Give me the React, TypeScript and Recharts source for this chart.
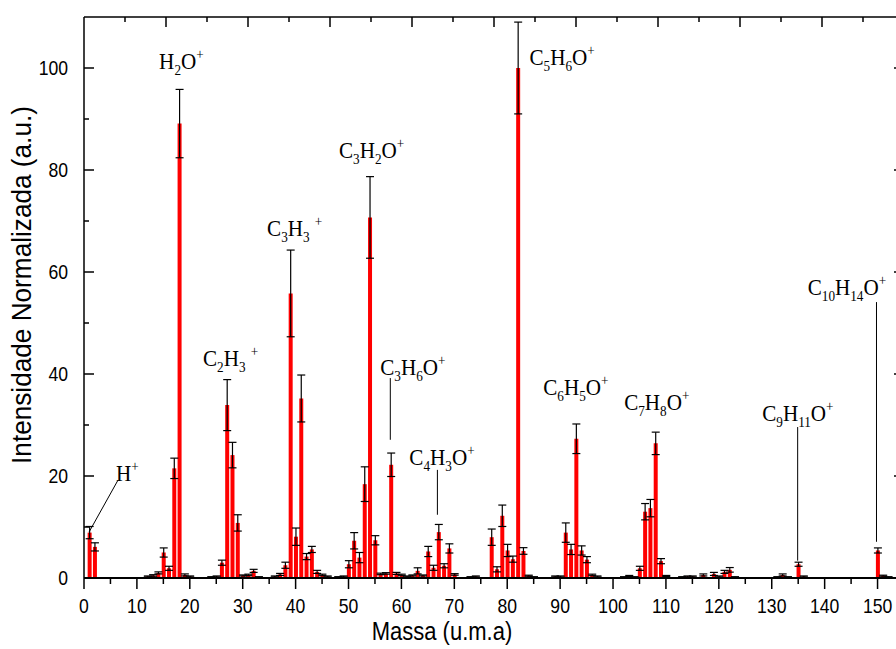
import React from "react";
import {
    ComposedChart,
    Bar,
    ErrorBar,
    XAxis,
    YAxis,
    ReferenceDot,
    ReferenceLine,
} from "recharts";

// mass (u.m.a), normalized intensity and error
const masses = [
    1, 2, 12, 13, 14, 15, 16, 17, 18, 19, 20, 24, 25, 26, 27, 28, 29, 30, 31, 32, 33,
    36, 37, 38, 39, 40, 41, 42, 43, 44, 45, 46, 48, 49, 50, 51, 52, 53, 54, 55, 56, 57,
    58, 59, 60, 61, 62, 63, 64, 65, 66, 67, 68, 69, 70, 73, 74, 77, 78, 79, 80, 81, 82,
    83, 84, 85, 89, 90, 91, 92, 93, 94, 95, 96, 97, 102, 103, 104, 105, 106, 107, 108,
    109, 110, 113, 114, 115, 117, 119, 120, 121, 122, 123, 131, 132, 133, 135, 136,
    150, 151, 152,
];
const intensity = [
    8.9, 6.1, 0.3, 0.5, 1.0, 5.0, 1.9, 21.5, 89.1, 0.6, 0.3, 0.2, 0.3, 3.0, 33.9, 24.1, 10.8, 0.5, 0.6, 1.4, 0.2,
    0.3, 0.7, 2.5, 55.8, 8.1, 35.2, 4.2, 5.6, 1.2, 0.6, 0.3, 0.2, 0.3, 2.7, 7.3, 4.0, 18.4, 70.7, 7.4, 0.8, 0.9,
    22.2, 0.9, 0.6, 0.3, 0.5, 1.4, 0.5, 5.2, 2.0, 9.0, 2.4, 5.8, 0.7, 0.2, 0.3, 8.0, 1.7, 12.2, 5.4, 3.7, 100,
    5.3, 0.45, 0.2, 0.3, 0.3, 8.9, 5.6, 27.3, 5.4, 3.6, 0.6, 0.3, 0.2, 0.4, 0.2, 1.9, 13.0, 13.7, 26.4,
    3.3, 0.4, 0.2, 0.3, 0.3, 0.6, 0.8, 0.3, 1.2, 1.6, 0.2, 0.2, 0.6, 0.2, 2.7, 0.3,
    5.4, 0.45, 0.2,
];
const errors = [
    1.2, 0.8, 0.1, 0.15, 0.2, 0.9, 0.4, 2.0, 6.7, 0.2, 0.1, 0.05, 0.1, 0.5, 5.0, 2.5, 1.6, 0.1, 0.15, 0.3, 0.05,
    0.1, 0.2, 0.6, 8.5, 1.7, 4.6, 0.6, 0.6, 0.3, 0.15, 0.1, 0.05, 0.1, 0.7, 1.6, 1.0, 3.4, 8.0, 0.9, 0.15, 0.15,
    2.3, 0.2, 0.15, 0.1, 0.1, 0.6, 0.1, 1.0, 0.5, 1.5, 0.4, 0.9, 0.15, 0.05, 0.1, 1.6, 0.5, 2.1, 1.2, 0.6, 9.0,
    0.65, 0.1, 0.05, 0.1, 0.1, 1.9, 1.0, 2.9, 0.9, 0.6, 0.15, 0.1, 0.05, 0.1, 0.05, 0.4, 1.6, 1.7, 2.2,
    0.5, 0.1, 0.05, 0.1, 0.1, 0.2, 0.3, 0.1, 0.3, 0.45, 0.05, 0.05, 0.2, 0.05, 0.4, 0.1,
    0.5, 0.1, 0.05,
];

const xTicks = [0, 5, 10, 15, 20, 25, 30, 35, 40, 45, 50, 55, 60, 65, 70, 75, 80, 85, 90, 95, 100, 105, 110, 115, 120, 125, 130, 135, 140, 145, 150, 155];
const yTicks = [0, 10, 20, 30, 40, 50, 60, 70, 80, 90, 100, 110];

// fragment labels: text position (left, baseline) in data units
const labels = [
    { f: "H+", x: 6.05, y: 19.0 },
    { f: "H2O+", x: 14.2, y: 99.8 },
    { f: "C2H3 +", x: 22.5, y: 41.6 },
    { f: "C3H3 +", x: 34.6, y: 67.1 },
    { f: "C3H2O+", x: 48.2, y: 82.4 },
    { f: "C3H6O+", x: 56.0, y: 39.8 },
    { f: "C4H3O+", x: 61.5, y: 22.2 },
    { f: "C5H6O+", x: 84.2, y: 100.6 },
    { f: "C6H5O+", x: 86.8, y: 35.9 },
    { f: "C7H8O+", x: 102.1, y: 32.9 },
    { f: "C9H11O+", x: 128.2, y: 30.8 },
    { f: "C10H14O+", x: 136.8, y: 55.5 },
];
// leader lines [x1, y1, x2, y2] in data units
const leaders = [
    [6.43, 19.2, 0.95, 9.0],
    [57.9, 39.2, 57.9, 27.1],
    [66.8, 21.2, 66.8, 12.4],
    [134.9, 29.6, 134.9, 3.4],
    [149.8, 54.1, 149.8, 7.1],
];

const data = masses.map((m, i) => ({ mass: m, value: intensity[i], err: errors[i] }));

const SANS = "'Liberation Sans', Arial, sans-serif";
const SERIF = "'Liberation Serif', 'Times New Roman', serif";
const SQ = 0.88;

const Formula = ({ x, y, f }: { x: number; y: number; f: string }) => {
    const parts: { t: string; k: string }[] = [];
    for (const ch of f) {
        const k = /[0-9]/.test(ch) ? "sub" : ch === "+" ? "sup" : "n";
        const last = parts[parts.length - 1];
        if (last && last.k === k) last.t += ch;
        else parts.push({ t: ch, k });
    }
    let shift = 0;
    return (
        <text transform={`translate(${x},${y}) scale(${SQ},1)`} fontFamily={SERIF} fontSize={24} fill="#000">
            {parts.map((p, i) => {
                const target = p.k === "sub" ? 6 : p.k === "sup" ? -10 : 0;
                const dy = target - shift;
                shift = target;
                return (
                    <tspan key={i} dy={dy} fontSize={p.k === "n" ? 24 : 15} style={{ whiteSpace: "pre" }}>
                        {p.t}
                    </tspan>
                );
            })}
        </text>
    );
};

const BottomTick = ({ x, y, payload }: any) => {
    const v = payload.value;
    const major = v % 10 === 0;
    return (
        <g>
            {v < 155 && <line x1={x} x2={x} y1={y} y2={y + (major ? 11 : 6)} stroke="#000" strokeWidth={1.5} />}
            {major && v <= 150 && (
                <text transform={`translate(${x},${y + 35}) scale(${SQ},1)`} textAnchor="middle" fontSize={20} fontFamily={SANS} fill="#000">
                    {v}
                </text>
            )}
        </g>
    );
};

const TopTick = ({ x, y, payload }: any) => {
    const v = payload.value;
    if (v === 0 || v >= 155) return <g />;
    const major = v % 10 === 0;
    return <line x1={x} x2={x} y1={y} y2={y + (major ? 10 : 5)} stroke="#000" strokeWidth={1.5} />;
};

const LeftTick = ({ x, y, payload }: any) => {
    const v = payload.value;
    const major = v % 20 === 0;
    return (
        <g>
            {v > 0 && v < 110 && <line x1={x} x2={x + (major ? 10 : 5)} y1={y} y2={y} stroke="#000" strokeWidth={1.5} />}
            {major && v <= 100 && (
                <text transform={`translate(${x - 16},${y + 7}) scale(${SQ},1)`} textAnchor="end" fontSize={20} fontFamily={SANS} fill="#000">
                    {v}
                </text>
            )}
        </g>
    );
};

const RightTick = ({ x, y, payload }: any) => {
    const v = payload.value;
    if (v === 0 || v >= 110) return <g />;
    const major = v % 20 === 0;
    return <line x1={x} x2={x - (major ? 10 : 5)} y1={y} y2={y} stroke="#000" strokeWidth={1.5} />;
};

export default function App() {
    return (
        <div style={{ width: 896, height: 649, overflow: "hidden", background: "#fff" }}>
            <style>{"body{margin:0;overflow:hidden}"}</style>
            <ComposedChart width={920} height={649} data={data} margin={{ top: 0, right: 0, bottom: 0, left: 0 }}>
                <XAxis
                    dataKey="mass"
                    type="number"
                    domain={[0, 155]}
                    ticks={xTicks}
                    interval={0}
                    height={71}
                    tickSize={0}
                    tickMargin={0}
                    tickLine={false}
                    axisLine={{ stroke: "#000", strokeWidth: 2 }}
                    tick={<BottomTick />}
                    allowDataOverflow
                />
                <XAxis
                    xAxisId="top"
                    orientation="top"
                    type="number"
                    domain={[0, 155]}
                    ticks={xTicks}
                    interval={0}
                    height={17}
                    tickSize={0}
                    tickMargin={0}
                    tickLine={false}
                    axisLine={{ stroke: "#000", strokeWidth: 1.5 }}
                    tick={<TopTick />}
                    allowDataOverflow
                />
                <YAxis
                    type="number"
                    domain={[0, 110]}
                    ticks={yTicks}
                    interval={0}
                    width={84}
                    tickSize={0}
                    tickMargin={0}
                    tickLine={false}
                    axisLine={{ stroke: "#000", strokeWidth: 1.5 }}
                    tick={<LeftTick />}
                    allowDataOverflow
                />
                <YAxis
                    yAxisId="right"
                    orientation="right"
                    type="number"
                    domain={[0, 110]}
                    ticks={yTicks}
                    interval={0}
                    width={16}
                    tickSize={0}
                    tickMargin={0}
                    tickLine={false}
                    axisLine={{ stroke: "#000", strokeWidth: 1.5 }}
                    tick={<RightTick />}
                    allowDataOverflow
                />
                <Bar dataKey="value" fill="#ff0000" barSize={4} isAnimationActive={false}>
                    <ErrorBar dataKey="err" width={4} stroke="#000" strokeWidth={1.2} direction="y" isAnimationActive={false} />
                </Bar>
                {leaders.map((l, i) => (
                    <ReferenceLine
                        key={"l" + i}
                        segment={[{ x: l[0], y: l[1] }, { x: l[2], y: l[3] }]}
                        stroke="#000"
                        strokeWidth={1}
                    />
                ))}
                {labels.map((lb) => (
                    <ReferenceDot
                        key={lb.f}
                        x={lb.x}
                        y={lb.y}
                        r={0}
                        ifOverflow="visible"
                        shape={(p: any) => <Formula x={p.cx} y={p.cy} f={lb.f} />}
                    />
                ))}
                <text transform={`translate(442,640) scale(${SQ},1)`} textAnchor="middle" fontSize={25} fontFamily={SANS} fill="#000">
                    Massa (u.m.a)
                </text>
                <text transform="translate(31,285) rotate(-90) scale(0.97,1)" textAnchor="middle" fontSize={27} fontFamily={SANS} fill="#000">
                    Intensidade Normalizada (a.u.)
                </text>
            </ComposedChart>
        </div>
    );
}
